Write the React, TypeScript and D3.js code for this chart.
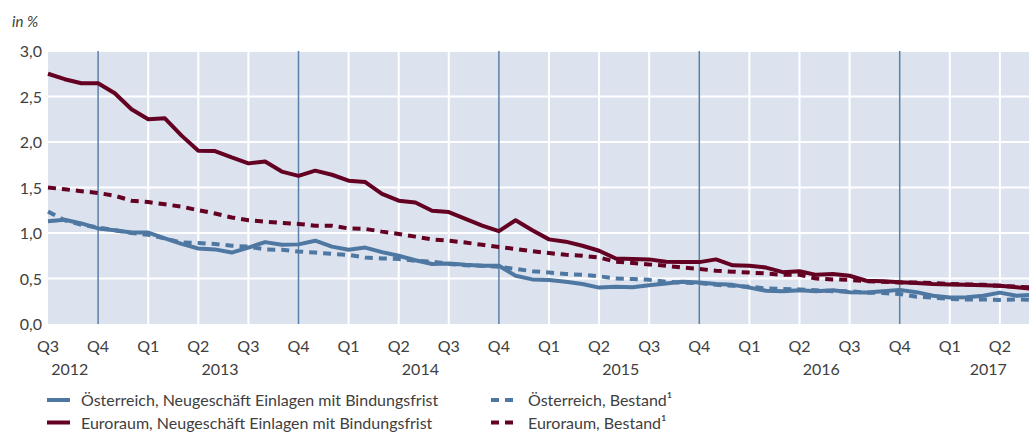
import React, { useEffect, useRef } from "react"
import * as d3 from "d3"

// monthly values, Jul 2012 .. Jun 2017 (in %)
const atNew = [1.13, 1.145, 1.105, 1.05, 1.03, 1.005, 1.005, 0.94, 0.88, 0.83, 0.82, 0.785,
    0.84, 0.9, 0.87, 0.875, 0.915, 0.85, 0.815, 0.84, 0.79, 0.75, 0.7, 0.66,
    0.665, 0.65, 0.64, 0.64, 0.53, 0.49, 0.483, 0.465, 0.44, 0.4, 0.41, 0.405,
    0.425, 0.445, 0.465, 0.455, 0.44, 0.43, 0.4, 0.365, 0.36, 0.37, 0.36, 0.37,
    0.35, 0.345, 0.36, 0.375, 0.35, 0.31, 0.29, 0.295, 0.31, 0.345, 0.31, 0.32]
const atStock = [1.235, 1.14, 1.09, 1.06, 1.03, 1.0, 0.98, 0.94, 0.895, 0.89, 0.88, 0.86,
    0.85, 0.82, 0.815, 0.797, 0.785, 0.77, 0.76, 0.73, 0.72, 0.715, 0.695, 0.685,
    0.66, 0.645, 0.64, 0.63, 0.605, 0.58, 0.565, 0.55, 0.54, 0.525, 0.5, 0.495,
    0.485, 0.465, 0.455, 0.45, 0.43, 0.42, 0.41, 0.39, 0.385, 0.38, 0.37, 0.36,
    0.36, 0.345, 0.34, 0.33, 0.3, 0.29, 0.275, 0.27, 0.27, 0.265, 0.27, 0.265]
const euroNew = [2.75, 2.69, 2.645, 2.645, 2.535, 2.36, 2.25, 2.26, 2.07, 1.905, 1.9, 1.83,
    1.765, 1.785, 1.675, 1.628, 1.685, 1.64, 1.575, 1.56, 1.43, 1.355, 1.335, 1.245,
    1.23, 1.155, 1.08, 1.02, 1.14, 1.03, 0.93, 0.905, 0.86, 0.805, 0.72, 0.715,
    0.71, 0.685, 0.68, 0.68, 0.71, 0.645, 0.64, 0.62, 0.57, 0.58, 0.54, 0.55,
    0.53, 0.475, 0.47, 0.46, 0.45, 0.44, 0.435, 0.43, 0.425, 0.42, 0.405, 0.385]
const euroStock = [1.5, 1.48, 1.46, 1.44, 1.41, 1.355, 1.34, 1.315, 1.29, 1.25, 1.215, 1.17,
    1.14, 1.125, 1.11, 1.1, 1.08, 1.08, 1.05, 1.045, 1.015, 0.99, 0.96, 0.93,
    0.915, 0.895, 0.87, 0.845, 0.825, 0.8, 0.78, 0.76, 0.75, 0.73, 0.685, 0.67,
    0.655, 0.64, 0.62, 0.605, 0.585, 0.575, 0.565, 0.555, 0.54, 0.54, 0.5, 0.49,
    0.485, 0.47, 0.465, 0.455, 0.455, 0.45, 0.44, 0.435, 0.43, 0.42, 0.41, 0.4]

const quarterLabels = ["Q3", "Q4", "Q1", "Q2", "Q3", "Q4", "Q1", "Q2", "Q3", "Q4", "Q1", "Q2", "Q3", "Q4",
    "Q1", "Q2", "Q3", "Q4", "Q1", "Q2"]
const years = [
    { label: "2012", pos: 1.3 },
    { label: "2013", pos: 10.3 },
    { label: "2014", pos: 22.3 },
    { label: "2015", pos: 34.3 },
    { label: "2016", pos: 46.3 },
    { label: "2017", pos: 56.3 },
]
const yTicks = [0, 0.5, 1, 1.5, 2, 2.5, 3]

const blue = "#4e77a1"
const red = "#640022"
const font = "Lato, 'Open Sans', sans-serif"

const series = [
    { name: "Österreich, Neugeschäft Einlagen mit Bindungsfrist", values: atNew, color: blue, dash: null },
    { name: "Euroraum, Neugeschäft Einlagen mit Bindungsfrist", values: euroNew, color: red, dash: null },
    { name: "Österreich, Bestand¹", values: atStock, color: blue, dash: "8,6" },
    { name: "Euroraum, Bestand¹", values: euroStock, color: red, dash: "8,6" },
]

export default function App() {
    const ref = useRef<SVGSVGElement>(null)

    useEffect(() => {
        const svg = d3.select(ref.current)
        svg.selectAll("*").remove()
        const left = 48, right = 1029, top = 51, bottom = 324
        const x = d3.scaleLinear().domain([0, 59]).range([left, left + 59 * 16.7])
        const y = d3.scaleLinear().domain([0, 3]).range([bottom, top])

        svg.append("rect")
            .attr("x", left).attr("y", top)
            .attr("width", right - left).attr("height", bottom - top)
            .attr("fill", "#dce3ef")

        // horizontal grid
        svg.append("g").selectAll("line")
            .data(yTicks.filter(d => d > 0))
            .enter().append("line")
            .attr("x1", left).attr("x2", right)
            .attr("y1", d => y(d)).attr("y2", d => y(d))
            .attr("stroke", "#fff").attr("stroke-width", 2)

        // vertical grid per quarter, Q4 in blue
        svg.append("g").selectAll("line")
            .data(quarterLabels.map((q, i) => ({ q, i })).filter(d => d.i > 0))
            .enter().append("line")
            .attr("x1", d => x(d.i * 3)).attr("x2", d => x(d.i * 3))
            .attr("y1", top).attr("y2", bottom)
            .attr("stroke", d => d.q == "Q4" ? "#5a80aa" : "#fff")
            .attr("stroke-width", d => d.q == "Q4" ? 1.5 : 2)

        const line = d3.line<number>()
            .x((d, i) => x(i))
            .y(d => y(d))

        const order = [series[2], series[3], series[0], series[1]]
        order.forEach(s => {
            svg.append("path")
                .datum(s.values)
                .attr("d", line)
                .attr("fill", "none")
                .attr("stroke", s.color)
                .attr("stroke-width", 4)
                .attr("stroke-dasharray", s.dash)
                .attr("stroke-linejoin", "round")
        })

        // y axis labels
        svg.append("g").selectAll("text")
            .data(yTicks)
            .enter().append("text")
            .attr("x", 42).attr("y", d => y(d) + 6)
            .attr("text-anchor", "end")
            .attr("font-size", 16).attr("font-family", font)
            .attr("fill", "#404040")
            .text(d => d3.format(".1f")(d).replace(".", ","))

        svg.append("text")
            .attr("x", 12).attr("y", 27)
            .attr("font-size", 15).attr("font-style", "italic")
            .attr("font-family", font).attr("fill", "#404040")
            .text("in %")

        // x axis labels
        svg.append("g").selectAll("text")
            .data(quarterLabels)
            .enter().append("text")
            .attr("x", (d, i) => x(i * 3)).attr("y", 352)
            .attr("text-anchor", "middle")
            .attr("font-size", 16).attr("font-family", font)
            .attr("fill", "#404040")
            .text(d => d)

        svg.append("g").selectAll("text")
            .data(years)
            .enter().append("text")
            .attr("x", d => x(d.pos)).attr("y", 375)
            .attr("text-anchor", "middle")
            .attr("font-size", 16).attr("font-family", font)
            .attr("fill", "#404040")
            .text(d => d.label)

        // legend
        const legend = svg.append("g")
        series.forEach((s, i) => {
            const col = i < 2 ? 0 : 1
            const row = i % 2
            const lx = col == 0 ? 47 : 490
            const ly = 400 + row * 22.5
            const g = legend.append("g")
            if (s.dash) {
                g.append("line")
                    .attr("x1", lx).attr("x2", lx + 26)
                    .attr("y1", ly).attr("y2", ly)
                    .attr("stroke", s.color).attr("stroke-width", 4)
                    .attr("stroke-dasharray", "8,6")
                    .attr("stroke-dashoffset", -1)
            } else {
                g.append("line")
                    .attr("x1", lx).attr("x2", lx + 23)
                    .attr("y1", ly).attr("y2", ly)
                    .attr("stroke", s.color).attr("stroke-width", 4)
            }
            g.append("text")
                .attr("x", col == 0 ? 81 : 528).attr("y", ly + 6)
                .attr("font-size", 16).attr("font-family", font)
                .attr("fill", "#404040")
                .text(s.name)
        })
    }, [])

    return (
        <svg ref={ref} width={1029} height={432}
            style={{ position: "absolute", left: 0, top: 0, background: "#fff" }} />
    )
}
